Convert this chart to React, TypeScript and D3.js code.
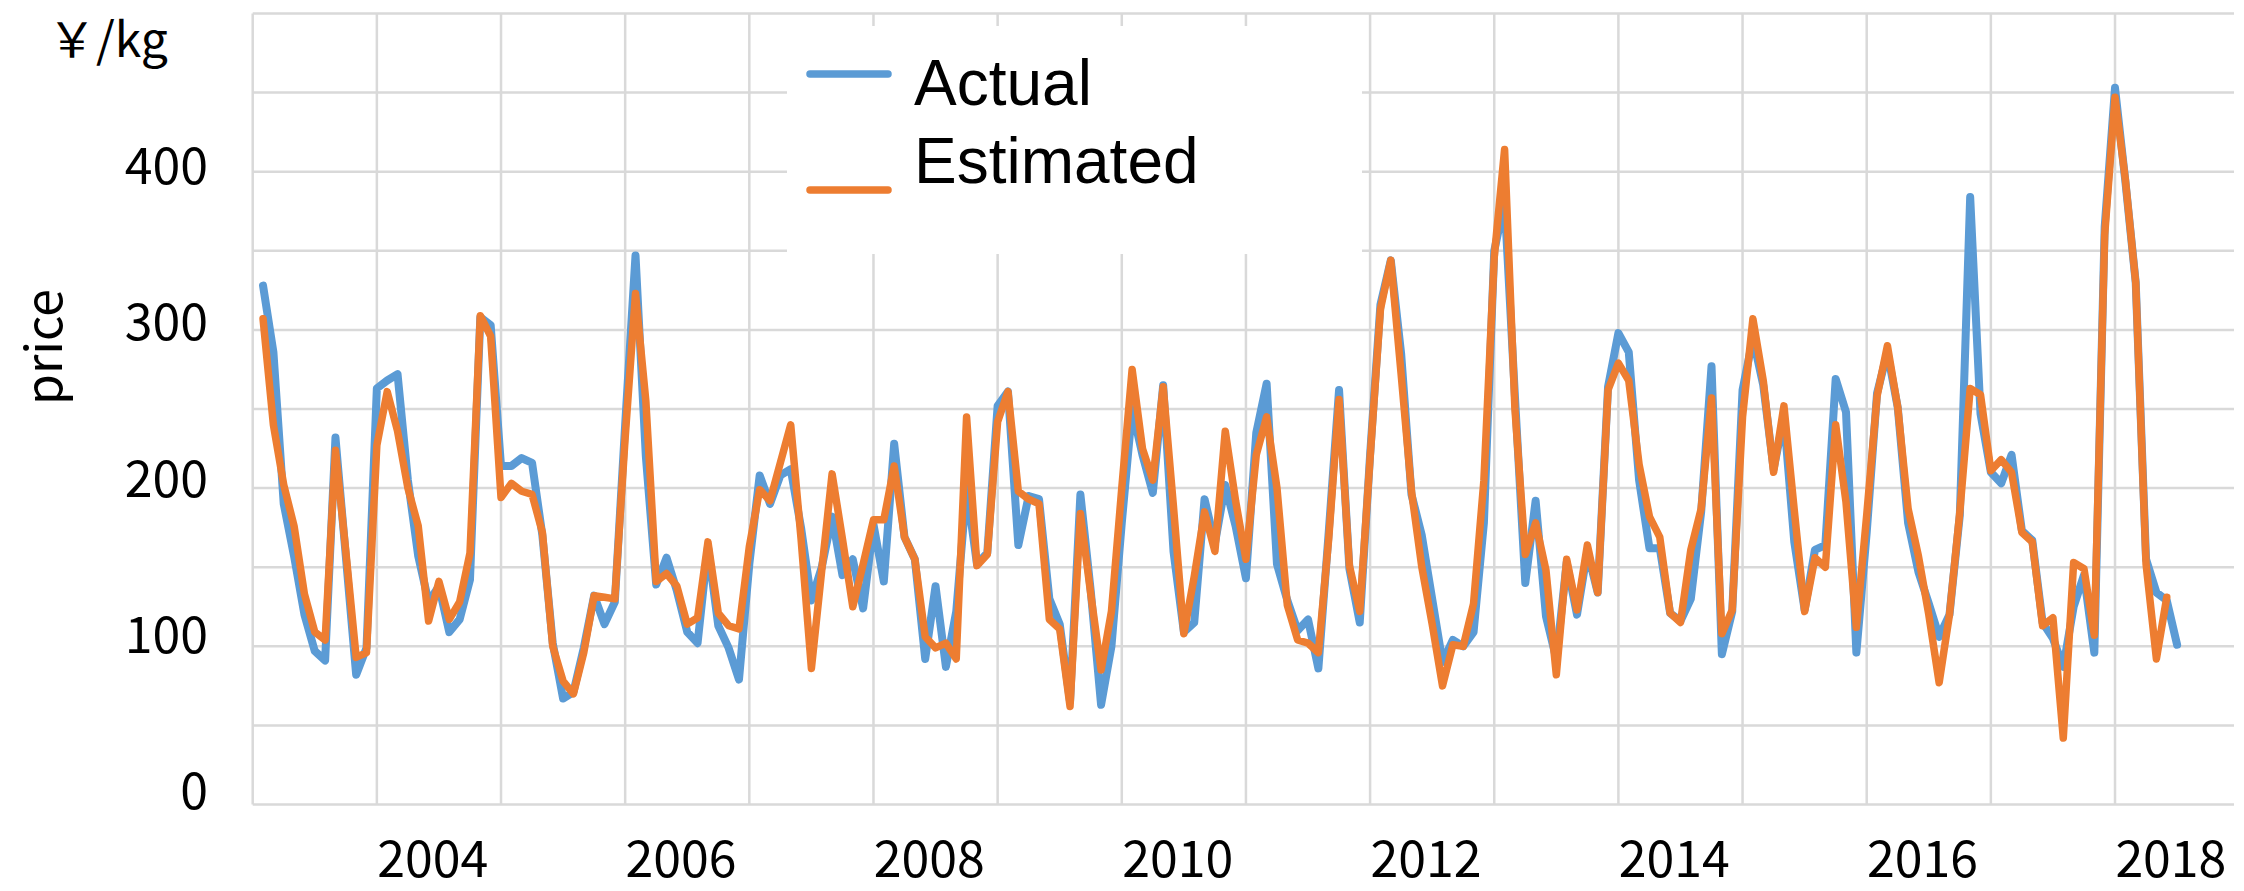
import React, { useEffect } from 'react';
import * as d3 from 'd3';

// Monthly series, first value = Feb 2003 (month index 1, where Jan 2003 = 0)
const FIRST_MONTH = 1;

const actual = [
  328, 286, 190, 157, 120, 97, 91, 232, 157, 82, 99,
  263, 268, 272, 205, 157, 128, 138, 109, 117, 142, 308, 303,
  214, 214, 219, 216, 170, 102, 67, 71, 99, 132, 114, 128,
  240, 347, 220, 139, 156, 135, 109, 102, 163, 113, 99, 79,
  152, 208, 190, 208, 212, 175, 129, 150, 182, 145, 155, 124,
  177, 141, 228, 169, 155, 92, 138, 87, 122, 200, 152, 159,
  252, 261, 164, 195, 193, 130, 114, 65, 196, 135, 63, 100,
  178, 250, 221, 197, 265, 160, 109, 115, 193, 165, 202, 176,
  143, 235, 266, 152, 129, 110, 117, 86, 172, 262, 149, 115,
  221, 316, 344, 285, 196, 170, 130, 90, 104, 100, 109, 178,
  350, 381, 258, 140, 192, 119, 92, 153, 120, 160, 134, 264,
  298, 286, 205, 162, 162, 121, 116, 130, 185, 277, 95, 122,
  262, 295, 265, 212, 245, 166, 123, 161, 164, 269, 248, 96,
  172, 260, 286, 251, 178, 147, 127, 106, 120, 183, 384, 247,
  210, 203, 221, 173, 167, 115, 105, 87, 125, 145, 96, 365,
  453, 394, 330, 155, 134, 129, 101,
];

const estimated = [
  307, 240, 202, 176, 133, 109, 104, 224, 160, 93, 96,
  227, 261, 236, 200, 176, 116, 141, 117, 128, 159, 309, 296,
  194, 203, 198, 196, 172, 100, 78, 70, 96, 132, 131, 130,
  232, 323, 255, 141, 146, 138, 114, 118, 166, 121, 113, 111,
  163, 199, 192, 216, 240, 168, 86, 148, 209, 168, 125, 152,
  180, 180, 214, 169, 155, 106, 99, 102, 92, 245, 151, 158,
  242, 261, 198, 193, 190, 117, 111, 62, 184, 133, 85, 122,
  200, 275, 225, 205, 264, 188, 108, 144, 185, 160, 236, 192,
  155, 221, 245, 200, 126, 104, 102, 96, 168, 256, 151, 122,
  219, 313, 344, 272, 198, 150, 114, 75, 101, 100, 127, 205,
  346, 414, 250, 158, 178, 148, 82, 155, 123, 164, 134, 262,
  279, 268, 215, 182, 169, 121, 115, 161, 187, 257, 108, 123,
  245, 307, 268, 210, 252, 186, 122, 156, 150, 240, 191, 112,
  183, 258, 290, 251, 187, 157, 120, 77, 120, 185, 263, 259,
  211, 218, 210, 172, 166, 113, 118, 42, 153, 149, 107, 360,
  447, 395, 330, 152, 92, 131,
];

const seriesNames = ['Actual', 'Estimated'];
const seriesColors = ['#5B9BD5', '#ED7D31'];
const seriesWidths = [8, 7.5];
const gridYears = d3.range(2003, 2019);
const labelYears = [2004, 2006, 2008, 2010, 2012, 2014, 2016, 2018];
const gridValues = d3.range(0, 501, 50);
const tickValues = [0, 100, 200, 300, 400];

const W = 2244;
const H = 891;

export default function App() {
  useEffect(() => {
    document.body.style.margin = '0';
    document.body.style.overflow = 'hidden';
  }, []);

  const x = d3.scaleLinear().domain([0, 191.5]).range([252.7, 2234]);
  const y = d3.scaleLinear().domain([0, 500]).range([804.5, 13.5]);
  const yLabel = d3.scaleLinear().domain([0, 400]).range([787, 162]);
  const monthOfYear = (yr: number) => (yr - 2003) * 12;

  const line = d3
    .line<number>()
    .x((_, i) => x(i + FIRST_MONTH))
    .y((d) => y(d));

  const axisFont = '"Noto Sans CJK JP", "Noto Sans", sans-serif';
  const [x0, x1] = x.range();
  const legendRowY = [74, 190];
  const legendTextY = [105, 183];

  return (
    <svg width={W} height={H} style={{ position: 'absolute', left: 0, top: 0, background: '#fff' }}>
      <rect x={0} y={0} width={W} height={H} fill="#fff" />
      {/* grid */}
      <g stroke="#D9D9D9" strokeWidth={2.5}>
        {gridValues.map((v) => (
          <line key={'h' + v} x1={x0} x2={x1} y1={y(v)} y2={y(v)} />
        ))}
        {gridYears.map((yr) => (
          <line key={'v' + yr} x1={x(monthOfYear(yr))} x2={x(monthOfYear(yr))} y1={y(500)} y2={y(0)} />
        ))}
      </g>
      {/* series */}
      {[actual, estimated].map((s, i) => (
        <path
          key={seriesNames[i]}
          d={line(s) || ''}
          fill="none"
          stroke={seriesColors[i]}
          strokeWidth={seriesWidths[i]}
          strokeLinejoin="round"
          strokeLinecap="round"
        />
      ))}
      {/* legend */}
      <g>
        <rect x={787} y={26} width={575} height={228} fill="#fff" />
        {seriesNames.map((name, i) => (
          <g key={name}>
            <line x1={810} x2={888} y1={legendRowY[i]} y2={legendRowY[i]} stroke={seriesColors[i]} strokeWidth={7.5} strokeLinecap="round" />
            <text x={914} y={legendTextY[i]} fontFamily='"Liberation Sans", Arial, sans-serif' fontSize={64} fill="#000">
              {name}
            </text>
          </g>
        ))}
      </g>
      {/* y tick labels */}
      {tickValues.map((v) => (
        <text key={'t' + v} x={208} y={yLabel(v)} textAnchor="end" dominantBaseline="central" fontFamily={axisFont} fontSize={50} fill="#000">
          {v}
        </text>
      ))}
      {/* x labels */}
      {labelYears.map((yr) => (
        <text key={'x' + yr} x={x(monthOfYear(yr) + 5.4)} y={877} textAnchor="middle" fontFamily={axisFont} fontSize={50} fill="#000">
          {yr}
        </text>
      ))}
      <text x={48} y={57} fontFamily={axisFont} fontSize={48} fill="#000">
        ￥/kg
      </text>
      <text transform="translate(40,347) rotate(-90)" textAnchor="middle" dominantBaseline="central" fontFamily={axisFont} fontSize={50} fill="#000">
        price
      </text>
    </svg>
  );
}
